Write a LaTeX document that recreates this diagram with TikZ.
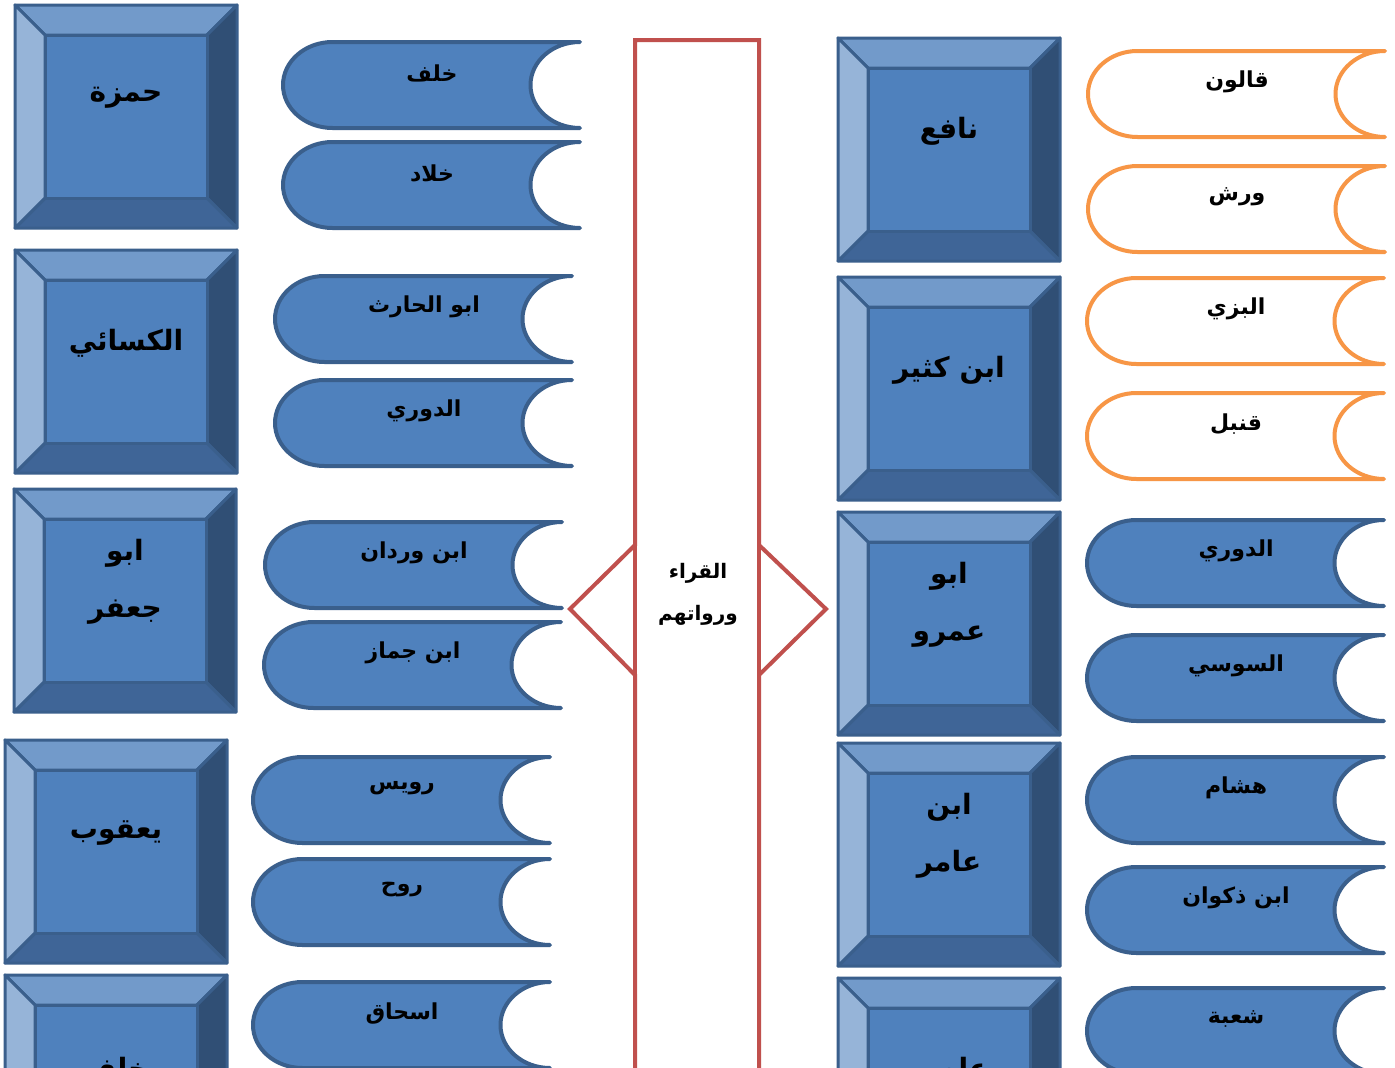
\documentclass[tikz,border=0pt]{standalone}
\usepackage{fontspec}
\newfontfamily\arabicfont[Script=Arabic]{DejaVu Sans}
\TeXXeTstate=1

\definecolor{keyblue}{HTML}{4F81BD}
\definecolor{keyline}{HTML}{3A5F8C}
\definecolor{keytop}{HTML}{729ACA}
\definecolor{keyleft}{HTML}{96B4D8}
\definecolor{keyright}{HTML}{304F75}
\definecolor{keybottom}{HTML}{3F6597}
\definecolor{tapeorange}{HTML}{F79646}
\definecolor{centrered}{HTML}{C0504D}

\tikzset{
  keyface/.style={draw=keyline, line width=3pt, line join=round},
  tapeblue/.style={fill=keyblue, draw=keyline, line width=4pt, line join=round},
  tapeorng/.style={fill=white, draw=tapeorange, line width=4pt, line join=round},
  keylabel/.style={font=\arabicfont\bfseries\fontsize{28}{57}\selectfont, align=center, inner sep=0pt},
  tapelabel/.style={font=\arabicfont\bfseries\fontsize{22}{27}\selectfont, inner sep=0pt},
}

\begin{document}
\begin{tikzpicture}[x=1pt,y=-1pt]
  \clip (0,0) rectangle (1395,1068);
  \fill[white] (0,0) rectangle (1395,1068);

  % bevelled keys: left column then right column
  \foreach \bx/\by/\bname/\btext in {
      15/5/hamza/{\beginR حمزة\endR},
      15/250/kisai/{\beginR الكسائي\endR},
      14/489/abujafar/{\beginR ابو\endR\\\beginR جعفر\endR},
      5/740/yaqub/{\beginR يعقوب\endR},
      5/975/khalaf/{\beginR خلف\endR},
      838/38/nafi/{\beginR نافع\endR},
      838/277/ibnkathir/{\beginR ابن كثير\endR},
      838/512/abuamr/{\beginR ابو\endR\\\beginR عمرو\endR},
      838/743/ibnamir/{\beginR ابن\endR\\\beginR عامر\endR},
      838/978/asim/{\beginR عاصم\endR}}
  {
    \filldraw[keyface, fill=keytop] (\bx,\by) -- (\bx+222,\by) -- (\bx+192,\by+30) -- (\bx+30,\by+30) -- cycle;
    \filldraw[keyface, fill=keyright] (\bx+222,\by) -- (\bx+222,\by+223) -- (\bx+192,\by+193) -- (\bx+192,\by+30) -- cycle;
    \filldraw[keyface, fill=keybottom] (\bx+222,\by+223) -- (\bx,\by+223) -- (\bx+30,\by+193) -- (\bx+192,\by+193) -- cycle;
    \filldraw[keyface, fill=keyleft] (\bx,\by+223) -- (\bx,\by) -- (\bx+30,\by+30) -- (\bx+30,\by+193) -- cycle;
    \filldraw[keyface, fill=keyblue] (\bx+30,\by+30) rectangle (\bx+192,\by+193);
    \node[keylabel] (\bname) at (\bx+111,\by+93) {\btext};
  }

  % stored-data tapes for the rawis
  \foreach \tx/\ty/\tname/\tstyle/\ttext in {
      283/42/khalafr/tapeblue/{خلف},
      283/142/khallad/tapeblue/{خلاد},
      275/276/abulharith/tapeblue/{ابو الحارث},
      275/380/duril/tapeblue/{الدوري},
      265/522/ibnwardan/tapeblue/{ابن وردان},
      264/622/ibnjammaz/tapeblue/{ابن جماز},
      253/757/ruways/tapeblue/{رويس},
      253/859/rawh/tapeblue/{روح},
      253/982/ishaq/tapeblue/{اسحاق},
      1088/51/qalun/tapeorng/{قالون},
      1088/166/warsh/tapeorng/{ورش},
      1087/278/bazzi/tapeorng/{البزي},
      1087/393/qunbul/tapeorng/{قنبل},
      1087/520/durir/tapeblue/{الدوري},
      1087/635/susi/tapeblue/{السوسي},
      1087/757/hisham/tapeblue/{هشام},
      1087/867/ibndhakwan/tapeblue/{ابن ذكوان},
      1087/988/shuba/tapeblue/{شعبة}}
  {
    \draw[\tstyle] (\tx+49.5,\ty) -- (\tx+297,\ty)
      .. controls (\tx+269.7,\ty) and (\tx+247.5,\ty+19.3) .. (\tx+247.5,\ty+43)
      .. controls (\tx+247.5,\ty+66.7) and (\tx+269.7,\ty+86) .. (\tx+297,\ty+86)
      -- (\tx+49.5,\ty+86)
      .. controls (\tx+22.2,\ty+86) and (\tx,\ty+66.7) .. (\tx,\ty+43)
      .. controls (\tx,\ty+19.3) and (\tx+22.2,\ty) .. (\tx+49.5,\ty) -- cycle;
    \node[tapelabel] (\tname) at (\tx+149,\ty+31) {\beginR\ttext\endR};
  }

  % central column with its two arrow heads
  \draw[centrered, line width=4pt] (570,609) -- (635,545) -- (635,40) -- (759,40) -- (759,545)
    -- (826,609) -- (759,675) -- (759,1090) -- (635,1090) -- (635,675) -- cycle;
  \draw[centrered, line width=4pt] (635,545) -- (635,675) (759,545) -- (759,675);
  \node[tapelabel, font=\arabicfont\bfseries\fontsize{20}{42}\selectfont, align=center] (qurra) at (698,594)
    {\beginR القراء\endR\\\beginR ورواتهم\endR};
\end{tikzpicture}
\end{document}
